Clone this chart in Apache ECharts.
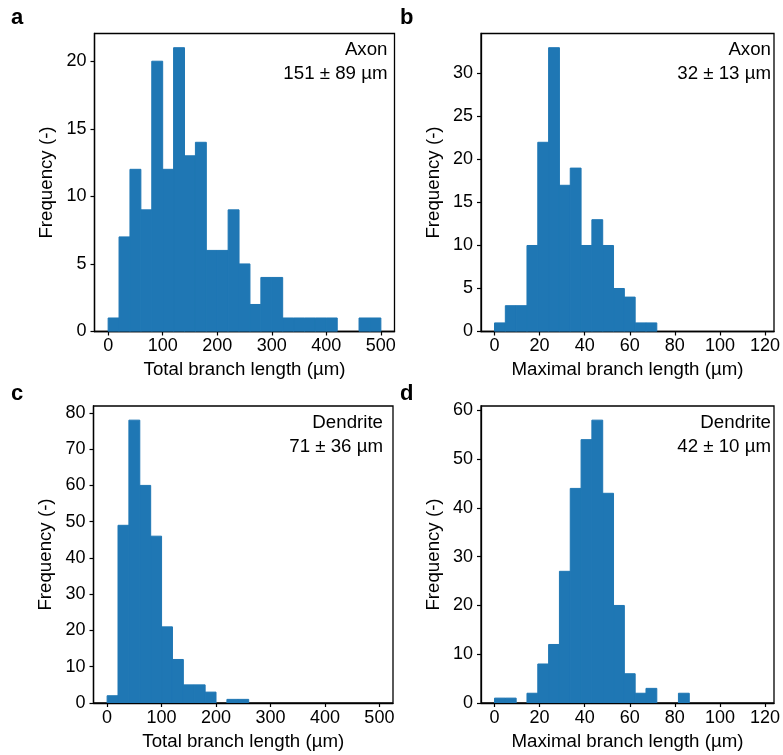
<!DOCTYPE html>
<html>
<head>
<meta charset="utf-8">
<style>
  html, body { margin: 0; padding: 0; background: #fff; }
  #chart { width: 783px; height: 755px; }
</style>
<script src="https://cdn.jsdelivr.net/npm/echarts@6.0.0/dist/echarts.min.js"></script>
</head>
<body>
<div id="chart"></div>
<script>
// bin 宽度
var totalBinWidth = 20;   // Total branch length: 0-500, 25 bins
var maxBinWidth = 4.8;    // Maximal branch length: 0-120, 25 bins

// 每个 bin 的计数
var axonTotalCounts = [1, 7, 12, 9, 20, 12, 21, 13, 14, 6, 6, 9, 5, 2, 4, 4, 1, 1, 1, 1, 1, 0, 0, 1, 1];
var axonMaxCounts = [1, 3, 3, 10, 22, 33, 17, 19, 10, 13, 10, 5, 4, 1, 1, 0, 0, 0, 0, 0, 0, 0, 0, 0, 0];
var dendTotalCounts = [2, 49, 78, 60, 46, 21, 12, 5, 5, 3, 0, 1, 1, 0, 0, 0, 0, 0, 0, 0, 0, 0, 0, 0, 0];
var dendMaxCounts = [1, 1, 0, 2, 8, 12, 27, 44, 54, 58, 43, 20, 6, 2, 3, 0, 0, 2, 0, 0, 0, 0, 0, 0, 0];

// 刻度
var totalTicks = [0, 100, 200, 300, 400, 500];
var maxTicks = [0, 20, 40, 60, 80, 100, 120];
var axonTotalYTicks = [0, 5, 10, 15, 20];
var axonMaxYTicks = [0, 5, 10, 15, 20, 25, 30];
var dendTotalYTicks = [0, 10, 20, 30, 40, 50, 60, 70, 80];
var dendMaxYTicks = [0, 10, 20, 30, 40, 50, 60];

// 文字
var panelLabels = ['a', 'b', 'c', 'd'];
var typeLabels = ['Axon', 'Axon', 'Dendrite', 'Dendrite'];
var statLabels = ['151 ± 89 µm', '32 ± 13 µm', '71 ± 36 µm', '42 ± 10 µm'];
var xNames = ['Total branch length (µm)', 'Maximal branch length (µm)', 'Total branch length (µm)', 'Maximal branch length (µm)'];

var FONT = '"Liberation Sans", Arial, Helvetica, sans-serif';
var BLUE = '#1f77b4';

function toBins(counts, w) {
  return counts.map(function (c, i) {
    return [i * w, (i + 1) * w, c];
  });
}

function renderBar(params, api) {
  if (!api.value(2)) return null;
  var p0 = api.coord([api.value(0), 0]);
  var p1 = api.coord([api.value(1), api.value(2)]);
  return {
    type: 'rect',
    shape: { x: p0[0], y: p1[1], width: p1[0] - p0[0], height: p0[1] - p1[1] },
    style: { fill: BLUE, stroke: BLUE, lineWidth: 1 }
  };
}

var panels = [
  { counts: axonTotalCounts, w: totalBinWidth, xTicks: totalTicks, yTicks: axonTotalYTicks, xMin: -25, xMax: 525,
    grid: { left: 94.5, top: 33.5, width: 300, height: 298 } },
  { counts: axonMaxCounts, w: maxBinWidth, xTicks: maxTicks, yTicks: axonMaxYTicks, xMin: -6, xMax: 124,
    grid: { left: 481, top: 33.5, width: 296, height: 298 } },
  { counts: dendTotalCounts, w: totalBinWidth, xTicks: totalTicks, yTicks: dendTotalYTicks, xMin: -25, xMax: 525,
    grid: { left: 93.5, top: 406, width: 299.5, height: 297 } },
  { counts: dendMaxCounts, w: maxBinWidth, xTicks: maxTicks, yTicks: dendMaxYTicks, xMin: -6, xMax: 124,
    grid: { left: 481, top: 406, width: 296, height: 297 } }
];

var grids = [], xAxes = [], yAxes = [], series = [];

panels.forEach(function (p, i) {
  grids.push({
    left: p.grid.left, top: p.grid.top, width: p.grid.width, height: p.grid.height,
    show: true, borderColor: '#000', borderWidth: 1.3, backgroundColor: 'transparent'
  });
  xAxes.push({
    type: 'value', gridIndex: i, min: p.xMin, max: p.xMax,
    name: xNames[i], nameLocation: 'middle', nameGap: 29,
    nameTextStyle: { fontFamily: FONT, fontSize: 18.7, color: '#000' },
    axisLine: { show: true, onZero: false, lineStyle: { color: '#000', width: 1.3 } },
    axisTick: { show: true, length: 4, lineStyle: { color: '#000', width: 1.2 }, customValues: p.xTicks },
    axisLabel: { fontFamily: FONT, fontSize: 18, color: '#000', margin: 6, customValues: p.xTicks },
    splitLine: { show: false }
  });
  yAxes.push({
    type: 'value', gridIndex: i, min: 0, max: Math.max.apply(null, p.counts) * 1.05,
    name: 'Frequency (-)', nameLocation: 'middle', nameGap: 38,
    nameTextStyle: { fontFamily: FONT, fontSize: 18.7, color: '#000' },
    axisLine: { show: true, onZero: false, lineStyle: { color: '#000', width: 1.3 } },
    axisTick: { show: true, length: 4, lineStyle: { color: '#000', width: 1.2 }, customValues: p.yTicks },
    axisLabel: { fontFamily: FONT, fontSize: 18, color: '#000', margin: 8, customValues: p.yTicks },
    splitLine: { show: false }
  });
  series.push({
    type: 'custom', xAxisIndex: i, yAxisIndex: i,
    renderItem: renderBar,
    encode: { x: [0, 1], y: 2 },
    data: toBins(p.counts, p.w),
    clip: true, silent: true
  });
});

// 面板字母和统计文字
var letterPos = [[11, 29], [400, 29], [11, 405], [400, 405]];
var statRight = [387.5, 771, 383, 771];
var statTop = [50, 50, 423, 423];
var graphics = [];
panels.forEach(function (p, i) {
  graphics.push({
    type: 'text', left: letterPos[i][0], top: letterPos[i][1] - 22,
    style: { text: panelLabels[i], font: 'bold 22px ' + FONT, fill: '#000' }
  });
  graphics.push({
    type: 'text', x: statRight[i], y: statTop[i],
    style: { text: typeLabels[i], font: '18.7px ' + FONT, fill: '#000', align: 'right', verticalAlign: 'middle' }
  });
  graphics.push({
    type: 'text', x: statRight[i], y: statTop[i] + 24,
    style: { text: statLabels[i], font: '18.7px ' + FONT, fill: '#000', align: 'right', verticalAlign: 'middle' }
  });
});

var chart = echarts.init(document.getElementById('chart'));
chart.setOption({
  animation: false,
  grid: grids,
  xAxis: xAxes,
  yAxis: yAxes,
  series: series,
  graphic: graphics
});
</script>
</body>
</html>
